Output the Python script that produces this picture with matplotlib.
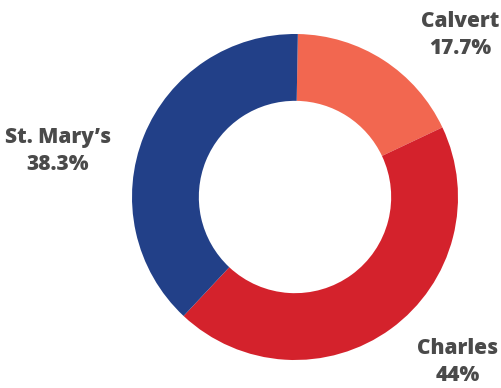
import matplotlib
matplotlib.use("Agg")
import matplotlib.pyplot as plt

categories = ["Calvert", "Charles", "St. Mary's"]
values = [17.7, 44.0, 38.3]
value_labels = ["17.7%", "44%", "38.3%"]
display_names = ["Calvert", "Charles", "St. Mary\u2019s"]
colors = ["#F26750", "#D4222C", "#224088"]

W, H = 501, 388
fig = plt.figure(figsize=(W / 100, H / 100), dpi=100)
ax = fig.add_axes([0, 0, 1, 1])
cx, cy, R = 295, 197, 163

ax.pie(values, colors=colors, startangle=89, counterclock=False, radius=1.0,
       wedgeprops=dict(width=0.41, edgecolor="none"))
ax.set_aspect("auto")
ax.set_xlim(-cx / R, (W - cx) / R)
ax.set_ylim(-(H - cy) / R, cy / R)
ax.axis("off")

# label anchor positions in pixel coordinates (top-left origin)
label_px = [(460, 35), (458, 362), (58, 151)]
for name, vl, (px, py) in zip(display_names, value_labels, label_px):
    x = (px - cx) / R
    y = (cy - py) / R
    ax.text(x, y, f"{name}\n{vl}", ha="center", va="center", fontsize=15,
            fontweight=800, family="Open Sans", color="#4A4A4A", linespacing=1.42)

fig.savefig("out.png", dpi=100)
